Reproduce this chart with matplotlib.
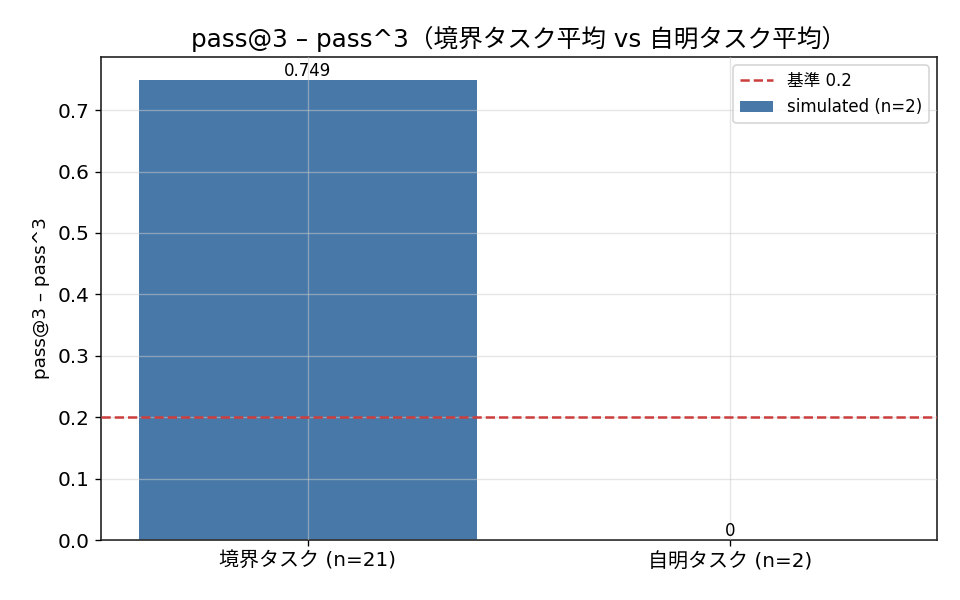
import matplotlib
matplotlib.use("Agg")
import matplotlib.pyplot as plt

plt.rcParams['font.family'] = ['DejaVu Sans', 'Noto Sans CJK JP']

categories = ["境界タスク (n=21)", "自明タスク (n=2)"]
values = [0.749, 0.0]
baseline = 0.2
title = "pass@3 – pass^3（境界タスク平均 vs 自明タスク平均）"
ylabel = "pass@3 – pass^3"

fig, ax = plt.subplots(figsize=(8, 5), dpi=120)
bars = ax.bar(range(len(categories)), values, width=0.8, color="#4878a8",
              label="simulated (n=2)")
ax.axhline(baseline, color="#cc3d3d", linestyle="--", linewidth=1.5,
           label="基準 0.2", zorder=3)
ax.bar_label(bars, labels=[f"{v:.3g}" for v in values], fontsize=10, padding=0)
ax.set_xticks(range(len(categories)))
ax.set_xticklabels(categories, fontsize=12)
ax.tick_params(axis='y', labelsize=12)
ax.set_ylabel(ylabel, fontsize=11)
ax.set_title(title, fontsize=14.8)
ax.grid(True, color="#cccccc", alpha=0.5, linewidth=0.8)
ax.set_axisbelow(False)
for s in ax.spines.values():
    s.set_linewidth(1.0)
    s.set_color("#222222")
handles, labels = ax.get_legend_handles_labels()
ax.legend(handles, labels, loc="upper right", fontsize=10)
fig.subplots_adjust(left=0.105, right=0.976, top=0.905, bottom=0.1)
fig.savefig("out.png", dpi=120)
